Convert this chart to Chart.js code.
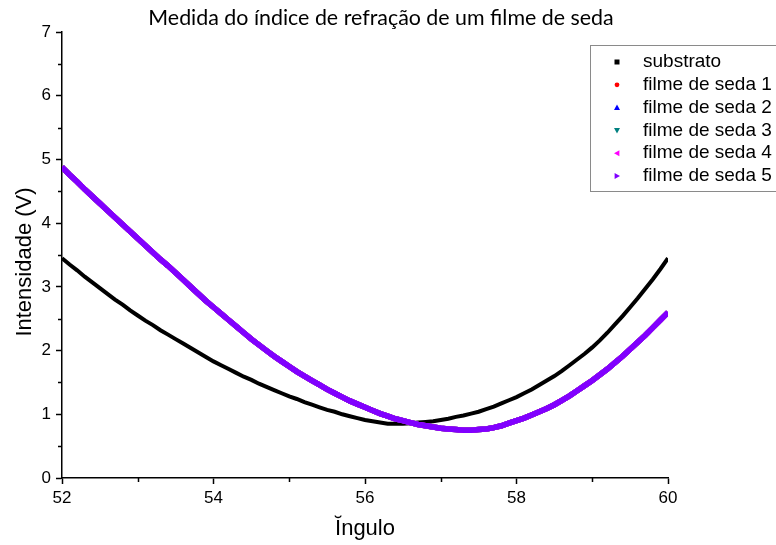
<!DOCTYPE html>
<html><head><meta charset="utf-8">
<script src="https://cdn.jsdelivr.net/npm/chart.js@4"></script>
<style>html,body{margin:0;padding:0;background:#fff}#wrap{width:776px;height:545px;position:relative}</style>
</head><body><div id="wrap"><canvas id="c" width="776" height="545"></canvas></div>
<script>
// ---- data ----
const angulo = [52.0,52.1,52.2,52.3,52.4,52.5,52.6,52.7,52.8,52.9,
53.0,53.1,53.2,53.3,53.4,53.5,53.6,53.7,53.8,53.9,
54.0,54.1,54.2,54.3,54.4,54.5,54.6,54.7,54.8,54.9,
55.0,55.1,55.2,55.3,55.4,55.5,55.6,55.7,55.8,55.9,
56.0,56.1,56.2,56.3,56.4,56.5,56.6,56.7,56.8,56.9,
57.0,57.1,57.2,57.3,57.4,57.5,57.6,57.7,57.8,57.9,
58.0,58.1,58.2,58.3,58.4,58.5,58.6,58.7,58.8,58.9,
59.0,59.1,59.2,59.3,59.4,59.5,59.6,59.7,59.8,59.9,60.0];
const substrato = [3.45,3.35,3.26,3.16,3.07,2.98,2.89,2.80,2.72,2.63,
2.55,2.47,2.40,2.32,2.25,2.18,2.11,2.04,1.97,1.90,
1.83,1.77,1.71,1.65,1.59,1.54,1.48,1.43,1.38,1.33,
1.28,1.24,1.19,1.15,1.11,1.07,1.04,1.00,0.97,0.94,
0.91,0.89,0.87,0.85,0.85,0.85,0.86,0.87,0.88,0.89,
0.91,0.93,0.96,0.98,1.01,1.04,1.08,1.12,1.17,1.22,
1.27,1.33,1.39,1.46,1.53,1.60,1.68,1.77,1.86,1.95,
2.05,2.16,2.28,2.41,2.54,2.68,2.82,2.97,3.12,3.28,3.45];
const filmeSeda = [4.88,4.76,4.65,4.53,4.42,4.31,4.20,4.09,3.98,3.87,
3.76,3.65,3.54,3.43,3.33,3.22,3.11,3.00,2.89,2.78,
2.68,2.58,2.48,2.38,2.28,2.18,2.09,2.00,1.91,1.83,
1.75,1.67,1.60,1.53,1.46,1.39,1.33,1.27,1.21,1.16,
1.11,1.06,1.01,0.97,0.93,0.90,0.87,0.84,0.82,0.80,
0.78,0.77,0.76,0.75,0.75,0.76,0.77,0.79,0.82,0.86,
0.90,0.94,0.99,1.04,1.09,1.15,1.22,1.29,1.37,1.45,
1.53,1.62,1.71,1.81,1.91,2.02,2.13,2.24,2.36,2.48,2.60];
const seriesNames = ['substrato','filme de seda 1','filme de seda 2','filme de seda 3','filme de seda 4','filme de seda 5'];
const seriesValues = [substrato, filmeSeda, filmeSeda, filmeSeda, filmeSeda, filmeSeda];
const seriesColors = ['#000000','#FF0000','#0000FF','#008080','#FF00FF','#8000FF'];
const seriesMarkers = ['square','circle','up','down','left','right'];
const xTickLabels = [52,54,56,58,60];
const yTickLabels = [0,1,2,3,4,5,6,7];
const chartTitle = 'Medida do índice de refração de um filme de seda';
const xTitle = 'Ĭngulo';
const yTitle = 'Intensidade (V)';

const datasets = seriesNames.map((name, k) => ({
  label: name,
  data: angulo.map((x, i) => ({x: x, y: seriesValues[k][i]})),
  showLine: true,
  borderColor: seriesColors[k],
  backgroundColor: seriesColors[k],
  borderWidth: k === 0 ? 4 : 5.5,
  pointRadius: 0,
  order: seriesNames.length - k
}));

function drawMarker(ctx, type, x, y, color) {
  ctx.save();
  ctx.fillStyle = color;
  ctx.beginPath();
  const s = 3;
  if (type === 'square') { ctx.rect(x - 2.5, y - 2.5, 5, 5); }
  else if (type === 'circle') { ctx.arc(x, y, 2.4, 0, Math.PI * 2); }
  else if (type === 'up') { ctx.moveTo(x, y - s); ctx.lineTo(x + s, y + s * 0.8); ctx.lineTo(x - s, y + s * 0.8); }
  else if (type === 'down') { ctx.moveTo(x, y + s); ctx.lineTo(x + s, y - s * 0.8); ctx.lineTo(x - s, y - s * 0.8); }
  else if (type === 'left') { ctx.moveTo(x - s, y); ctx.lineTo(x + s * 0.8, y - s); ctx.lineTo(x + s * 0.8, y + s); }
  else if (type === 'right') { ctx.moveTo(x + s, y); ctx.lineTo(x - s * 0.8, y - s); ctx.lineTo(x - s * 0.8, y + s); }
  ctx.closePath();
  ctx.fill();
  ctx.restore();
}

const decor = {
  id: 'decor',
  afterDraw(chart) {
    const ctx = chart.ctx, a = chart.chartArea;
    const xs = chart.scales.x, ys = chart.scales.y;
    ctx.save();
    // minor ticks
    ctx.strokeStyle = '#000'; ctx.lineWidth = 1.5;
    ctx.beginPath();
    for (let v = 0.5; v < 7; v += 1) {
      const py = Math.round(ys.getPixelForValue(v)) + 0.5;
      ctx.moveTo(a.left, py); ctx.lineTo(a.left - 4, py);
    }
    for (let v = 53; v < 60; v += 2) {
      const px = Math.round(xs.getPixelForValue(v)) + 0.5;
      ctx.moveTo(px, a.bottom); ctx.lineTo(px, a.bottom + 4);
    }
    ctx.stroke();
    // title (size calibrated to the reference width)
    ctx.fillStyle = '#000';
    ctx.textAlign = 'center'; ctx.textBaseline = 'middle';
    ctx.font = '20px Lato';
    const w = ctx.measureText(chartTitle).width;
    const fs = Math.max(16, Math.min(24, 20 * 466 / w));
    ctx.font = fs.toFixed(1) + 'px Lato';
    ctx.fillText(chartTitle, 381, 18);
    // axis titles
    ctx.font = '22px "Liberation Sans"';
    ctx.fillText(xTitle, (a.left + a.right) / 2, 529);
    ctx.save();
    ctx.translate(25, 262);
    ctx.rotate(-Math.PI / 2);
    ctx.fillText(yTitle, 0, 0);
    ctx.restore();
    // legend
    ctx.strokeStyle = '#8a8a8a'; ctx.lineWidth = 1;
    ctx.strokeRect(590.5, 45.5, 200, 146);
    ctx.font = '19px "Liberation Sans"';
    ctx.textAlign = 'left';
    seriesNames.forEach((n, k) => {
      const y = 62 + k * 22.8;
      drawMarker(ctx, seriesMarkers[k], 617, y, seriesColors[k]);
      ctx.fillStyle = '#000';
      ctx.fillText(n, 643, y);
    });
    ctx.restore();
  }
};

new Chart(document.getElementById('c'), {
  type: 'scatter',
  data: { datasets },
  options: {
    responsive: false,
    animation: false,
    devicePixelRatio: 1,
    layout: { padding: { top: 32, right: 108, left: 0, bottom: 0 } },
    plugins: { legend: { display: false }, title: { display: false }, tooltip: { enabled: false } },
    scales: {
      x: {
        type: 'linear', min: 52, max: 60,
        afterBuildTicks: s => { s.ticks = xTickLabels.map(v => ({ value: v })); },
        afterFit: s => { s.height = 67; },
        ticks: { color: '#000', font: { family: 'Liberation Sans', size: 17 }, padding: 4, maxRotation: 0 },
        grid: { drawOnChartArea: false, drawTicks: true, tickLength: 6, color: '#000', tickWidth: 1.5 },
        border: { display: true, color: '#000', width: 1.5 }
      },
      y: {
        type: 'linear', min: 0, max: 7,
        afterBuildTicks: s => { s.ticks = yTickLabels.map(v => ({ value: v })); },
        afterFit: s => { s.width = 62; },
        ticks: { color: '#000', font: { family: 'Liberation Sans', size: 17 }, padding: 5 },
        grid: { drawOnChartArea: false, drawTicks: true, tickLength: 6, color: '#000', tickWidth: 1.5 },
        border: { display: true, color: '#000', width: 1.5 }
      }
    }
  },
  plugins: [decor]
});
</script></body></html>
